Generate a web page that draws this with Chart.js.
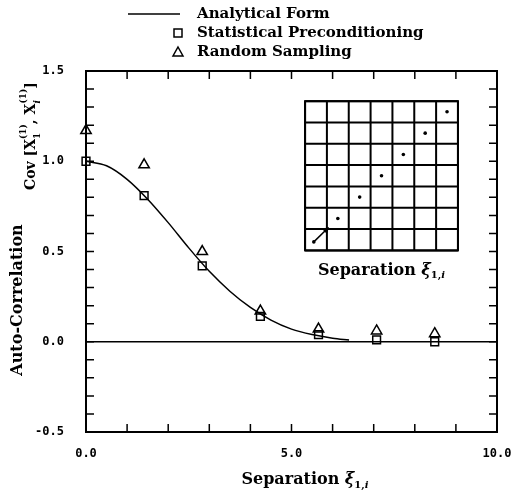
<!DOCTYPE html>
<html>
<head>
<meta charset="utf-8">
<script src="https://cdn.jsdelivr.net/npm/chart.js@4.4.1/dist/chart.umd.min.js"></script>
<style>
  html, body { margin: 0; padding: 0; background: #fff; }
  #wrap { width: 511px; height: 497px; position: relative; }
</style>
</head>
<body>
<div id="wrap"><canvas id="myChart" width="511" height="497"></canvas></div>
<script>
// separations along the grid diagonal
const separation = [0.0, 1.414, 2.828, 4.243, 5.657, 7.071, 8.485];
const statPrecond = [1.00, 0.81, 0.42, 0.14, 0.04, 0.01, 0.00];
const randSampling = [1.17, 0.98, 0.50, 0.17, 0.07, 0.06, 0.045];

// analytical curve
const curveX = [0.0, 0.5, 1.0, 1.5, 2.0, 2.5, 3.0, 3.5, 4.0, 4.5, 5.0, 5.5, 6.0, 6.4];
const curveY = [1.00, 0.975, 0.90, 0.79, 0.66, 0.52, 0.39, 0.28, 0.19, 0.12, 0.07, 0.04, 0.02, 0.01];

const xTickLabels = ['0.0', '5.0', '10.0'];
const yTickLabels = ['-0.5', '0.0', '0.5', '1.0', '1.5'];

const seriesNames = ['Analytical Form', 'Statistical Preconditioning', 'Random Sampling'];

const serif = '"DejaVu Serif", serif';

function toPoints(xs, ys) {
    return xs.map((x, i) => ({ x: x, y: ys[i] }));
}

// ticks pointing inward on all four sides, plus the frame
const frameTicks = {
    id: 'frameTicks',
    afterDraw(chart) {
        const ctx = chart.ctx, a = chart.chartArea;
        const xs = chart.scales.x, ys = chart.scales.y;
        ctx.save();
        ctx.strokeStyle = '#000';
        ctx.lineWidth = 2;
        ctx.strokeRect(a.left, a.top, a.right - a.left, a.bottom - a.top);
        ctx.lineWidth = 1.5;
        ctx.beginPath();
        for (let v = 1; v < 10; v++) {
            const px = xs.getPixelForValue(v);
            ctx.moveTo(px, a.bottom); ctx.lineTo(px, a.bottom - 8);
            ctx.moveTo(px, a.top); ctx.lineTo(px, a.top + 8);
        }
        for (let k = -4; k < 15; k++) {
            const py = ys.getPixelForValue(k / 10);
            ctx.moveTo(a.left, py); ctx.lineTo(a.left + 8, py);
            ctx.moveTo(a.right, py); ctx.lineTo(a.right - 8, py);
        }
        ctx.stroke();
        ctx.restore();
    }
};

// small grid picture in the upper right
const insetGrid = {
    id: 'insetGrid',
    afterDraw(chart) {
        const ctx = chart.ctx;
        const xs = chart.scales.x, ys = chart.scales.y;
        const l = xs.getPixelForValue(5.33), r = xs.getPixelForValue(9.05);
        const t = ys.getPixelForValue(1.333), b = ys.getPixelForValue(0.506);
        const n = 7, cw = (r - l) / n, ch = (b - t) / n;
        ctx.save();
        ctx.strokeStyle = '#000';
        ctx.fillStyle = '#000';
        ctx.lineWidth = 2;
        ctx.beginPath();
        for (let i = 0; i <= n; i++) {
            ctx.moveTo(l + i * cw, t); ctx.lineTo(l + i * cw, b);
            ctx.moveTo(l, t + i * ch); ctx.lineTo(r, t + i * ch);
        }
        ctx.stroke();
        ctx.strokeRect(l, t, r - l, b - t);
        for (let i = 0; i < n; i++) {
            const cx = l + (i + 0.5) * cw + (i === 0 ? -cw * 0.1 : 0);
            const cy = b - (i + 0.5) * ch + (i === 0 ? ch * 0.1 : 0);
            ctx.beginPath();
            ctx.arc(cx, cy, 1.8, 0, Math.PI * 2);
            ctx.fill();
        }
        // arrow from first dot to the corner
        const x0 = l + 0.4 * cw, y0 = b - 0.4 * ch;
        const x1 = l + cw * 1.05, y1 = b - ch * 1.05;
        ctx.lineWidth = 1.5;
        ctx.beginPath();
        ctx.moveTo(x0, y0); ctx.lineTo(x1, y1);
        ctx.stroke();
        ctx.beginPath();
        ctx.moveTo(x1 + 1, y1 - 1);
        ctx.lineTo(x1 - 6, y1 + 1);
        ctx.lineTo(x1 - 1, y1 + 6);
        ctx.closePath();
        ctx.fill();
        drawSep(ctx, (l + r) / 2, b + 20);
        ctx.restore();
    }
};

function drawSep(ctx, cx, cy) {
    const f1 = 'bold 16px ' + serif, f2 = 'italic bold 16px ' + serif;
    const f3 = 'bold 10px ' + serif, f4 = 'italic bold 10px ' + serif;
    ctx.font = f1;
    const w1 = ctx.measureText('Separation ').width;
    ctx.font = f2;
    const w2 = ctx.measureText('\u03be').width;
    ctx.font = f3;
    const w3 = ctx.measureText('1,').width;
    ctx.font = f4;
    const w4 = ctx.measureText('i').width;
    let x = cx - (w1 + w2 + w3 + w4) / 2;
    ctx.textBaseline = 'middle';
    ctx.textAlign = 'left';
    ctx.font = f1; ctx.fillText('Separation ', x, cy); x += w1;
    ctx.font = f2; ctx.fillText('\u03be', x, cy); x += w2;
    ctx.font = f3; ctx.fillText('1,', x, cy + 5); x += w3;
    ctx.font = f4; ctx.fillText('i', x, cy + 5);
}

// titles and the legend at the top
const labels = {
    id: 'labels',
    afterDraw(chart) {
        const ctx = chart.ctx;
        ctx.save();
        ctx.fillStyle = '#000';
        ctx.strokeStyle = '#000';

        // legend
        ctx.font = 'bold 15px ' + serif;
        ctx.textBaseline = 'middle';
        ctx.textAlign = 'left';
        ctx.lineWidth = 1.5;
        ctx.beginPath(); ctx.moveTo(128, 14); ctx.lineTo(180, 14); ctx.stroke();
        ctx.fillText(seriesNames[0], 197, 14);
        ctx.strokeRect(174, 29, 8, 8);
        ctx.fillText(seriesNames[1], 197, 33);
        ctx.beginPath(); ctx.moveTo(178, 47); ctx.lineTo(183, 56); ctx.lineTo(173, 56); ctx.closePath(); ctx.stroke();
        ctx.fillText(seriesNames[2], 197, 52);

        // x title
        drawSep(ctx, 305, 480);

        // y title, rotated
        ctx.save();
        ctx.translate(18, 300);
        ctx.rotate(-Math.PI / 2);
        ctx.font = 'bold 16px ' + serif;
        ctx.textAlign = 'center';
        ctx.fillText('Auto-Correlation', 0, 0);
        ctx.restore();

        ctx.save();
        ctx.translate(31, 136);
        ctx.rotate(-Math.PI / 2);
        const big = 'bold 14px ' + serif, small = 'bold 9px ' + serif, smallIt = 'italic bold 9px ' + serif;
        const parts = [
            ['Cov [X', big, 0], ['(1)', small, -7],
            [', X', big, 0], ['(1)', small, -7], [']', big, 0]
        ];
        ctx.textAlign = 'left';
        ctx.textBaseline = 'middle';
        let total = 0;
        parts.forEach(p => { ctx.font = p[1]; total += ctx.measureText(p[0]).width; });
        let x = -total / 2;
        parts.forEach((p, i) => {
            ctx.font = p[1];
            const w = ctx.measureText(p[0]).width;
            ctx.fillText(p[0], x, p[2]);
            if (i === 1) { ctx.font = small; ctx.fillText('1', x, 7); }
            if (i === 3) { ctx.font = smallIt; ctx.fillText('i', x, 7); }
            x += w;
        });
        ctx.restore();
        ctx.restore();
    }
};

const ctx = document.getElementById('myChart');
const myChart = new Chart(ctx, {
    type: 'scatter',
    data: {
        datasets: [
            {
                label: seriesNames[0],
                type: 'line',
                data: toPoints(curveX, curveY),
                borderColor: '#000',
                borderWidth: 1.5,
                pointRadius: 0,
                cubicInterpolationMode: 'monotone',
                fill: false
            },
            {
                label: 'zero',
                type: 'line',
                data: [{ x: 0, y: 0 }, { x: 10, y: 0 }],
                borderColor: '#000',
                borderWidth: 1.5,
                pointRadius: 0,
                fill: false
            },
            {
                label: seriesNames[1],
                data: toPoints(separation, statPrecond),
                pointStyle: 'rect',
                pointRadius: 5.5,
                borderColor: '#000',
                backgroundColor: 'rgba(255,255,255,0)',
                borderWidth: 1.5,
                clip: false
            },
            {
                label: seriesNames[2],
                data: toPoints(separation, randSampling),
                pointStyle: 'triangle',
                pointRadius: 6,
                borderColor: '#000',
                backgroundColor: 'rgba(255,255,255,0)',
                borderWidth: 1.5,
                clip: false
            }
        ]
    },
    options: {
        responsive: false,
        animation: false,
        layout: { padding: { left: 0, right: 14, top: 71, bottom: 0 } },
        plugins: { legend: { display: false }, tooltip: { enabled: false } },
        scales: {
            x: {
                type: 'linear', min: 0, max: 10,
                afterFit(s) { s.height = 65; s.paddingLeft = 0; s.paddingRight = 0; },
                afterBuildTicks(s) { s.ticks = [0, 5, 10].map(v => ({ value: v })); },
                grid: { display: false },
                border: { display: false },
                ticks: {
                    autoSkip: false, maxRotation: 0, padding: 7,
                    color: '#000', font: { family: '"DejaVu Sans Mono", monospace', size: 12, weight: 'bold' },
                    callback: (v) => xTickLabels[[0, 5, 10].indexOf(v)]
                }
            },
            y: {
                type: 'linear', min: -0.5, max: 1.5,
                afterFit(s) { s.width = 86; s.paddingTop = 0; s.paddingBottom = 0; },
                afterBuildTicks(s) { s.ticks = [-0.5, 0, 0.5, 1, 1.5].map(v => ({ value: v })); },
                grid: { display: false },
                border: { display: false },
                ticks: {
                    autoSkip: false, padding: 14,
                    color: '#000', font: { family: '"DejaVu Sans Mono", monospace', size: 12, weight: 'bold' },
                    callback: (v) => yTickLabels[[-0.5, 0, 0.5, 1, 1.5].indexOf(v)]
                }
            }
        }
    },
    plugins: [frameTicks, insetGrid, labels]
});
</script>
</body>
</html>
